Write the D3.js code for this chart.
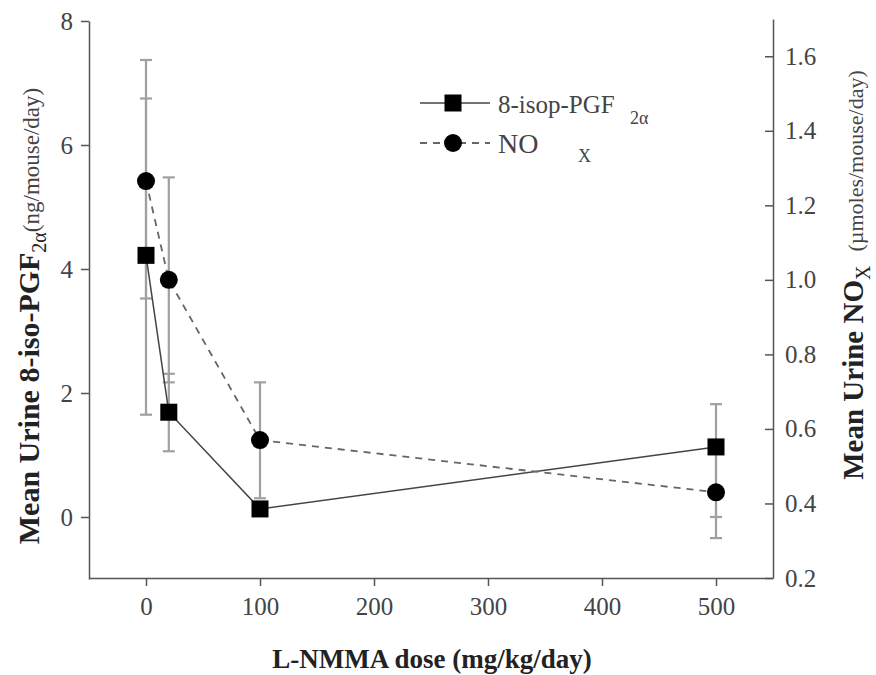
<!DOCTYPE html>
<html>
<head>
<meta charset="utf-8">
<script src="https://cdn.jsdelivr.net/npm/d3@7"></script>
<style>
  body { margin: 0; background: #fff; }
  text { font-family: "Liberation Serif", "Times New Roman", serif; }
</style>
</head>
<body>
<svg id="chart" width="876" height="675"></svg>
<script>
// dose groups (mg/kg/day)
var doses = [0, 20, 100, 500];

// 8-iso-PGF2a, ng/mouse/day (left axis)
var isoMean = [4.22, 1.69, 0.13, 1.13];
var isoLow  = [1.65, 1.06, 0.05, 0.0];
var isoHigh = [6.75, 2.31, 0.21, 1.82];

// NOx, umoles/mouse/day (right axis)
var noxMean = [1.265, 1.0, 0.57, 0.43];
var noxLow  = [0.95, 0.725, 0.414, 0.307];
var noxHigh = [1.59, 1.275, 0.725, 0.553];

var xTicks = [0, 100, 200, 300, 400, 500];
var yLeftTicks = [0, 2, 4, 6, 8];
var yRightTicks = [0.2, 0.4, 0.6, 0.8, 1.0, 1.2, 1.4, 1.6];

var svg = d3.select("#chart");
var left = 89, right = 773, bottom = 578;

var x = d3.scaleLinear().domain([-50, 550]).range([left, right]);
var yL = d3.scaleLinear().domain([-1, 8]).range([bottom + 1, 21]);
var yR = d3.scaleLinear().domain([0.2, 1.7]).range([bottom, 19]);

var axisColor = "#555", textColor = "#444";

function styleAxis(g) {
  g.selectAll("path, line").attr("stroke", axisColor).attr("stroke-width", 1.5);
  g.selectAll("text").attr("fill", textColor).attr("font-size", 25)
    .style("font-family", '"Liberation Serif", serif');
}

svg.append("g").attr("transform", "translate(0," + bottom + ")")
  .call(d3.axisBottom(x).tickValues(xTicks).tickSizeInner(8).tickSizeOuter(0).tickPadding(11))
  .call(styleAxis);

svg.append("g").attr("transform", "translate(" + left + ",0)")
  .call(d3.axisLeft(yL).tickValues(yLeftTicks).tickSizeInner(8).tickSizeOuter(0).tickPadding(8))
  .call(styleAxis);

svg.append("g").attr("transform", "translate(" + right + ",0)")
  .call(d3.axisRight(yR).tickValues(yRightTicks).tickFormat(d3.format(".1f"))
    .tickSizeInner(-8).tickSizeOuter(0).tickPadding(12))
  .call(styleAxis);

var errColor = "#a0a0a0", capW = 6;

function errorBars(lo, hi, y) {
  var g = svg.append("g").attr("stroke", errColor).attr("stroke-width", 2.2);
  doses.forEach(function (d, i) {
    var cx = x(d);
    g.append("line").attr("x1", cx).attr("x2", cx).attr("y1", y(lo[i])).attr("y2", y(hi[i]));
    [lo[i], hi[i]].forEach(function (v) {
      g.append("line").attr("x1", cx - capW).attr("x2", cx + capW).attr("y1", y(v)).attr("y2", y(v));
    });
  });
}
errorBars(isoLow, isoHigh, yL);
errorBars(noxLow, noxHigh, yR);

var isoLine = d3.line().x(function (d, i) { return x(doses[i]); }).y(function (d) { return yL(d); });
var noxLine = d3.line().x(function (d, i) { return x(doses[i]); }).y(function (d) { return yR(d); });

svg.append("path").attr("d", isoLine(isoMean)).attr("fill", "none")
  .attr("stroke", "#444").attr("stroke-width", 1.5);
svg.append("path").attr("d", noxLine(noxMean)).attr("fill", "none")
  .attr("stroke", "#666").attr("stroke-width", 1.8).attr("stroke-dasharray", "7,6");

var sq = 17;
svg.selectAll("rect.iso").data(isoMean).enter().append("rect")
  .attr("x", function (d, i) { return x(doses[i]) - sq / 2; })
  .attr("y", function (d) { return yL(d) - sq / 2; })
  .attr("width", sq).attr("height", sq).attr("fill", "#000");

svg.selectAll("circle.nox").data(noxMean).enter().append("circle")
  .attr("cx", function (d, i) { return x(doses[i]); })
  .attr("cy", function (d) { return yR(d); })
  .attr("r", 9).attr("fill", "#000");

// legend
var leg = svg.append("g");
leg.append("line").attr("x1", 420).attr("x2", 490).attr("y1", 103).attr("y2", 103)
  .attr("stroke", "#444").attr("stroke-width", 1.5);
leg.append("rect").attr("x", 453 - sq / 2).attr("y", 103 - sq / 2).attr("width", sq).attr("height", sq).attr("fill", "#000");
var t1 = leg.append("text").attr("x", 498).attr("y", 113).attr("font-size", 25).attr("fill", textColor);
t1.append("tspan").text("8-isop-PGF");
t1.append("tspan").attr("x", 630).attr("y", 124).attr("font-size", 18).text("2α");

leg.append("line").attr("x1", 420).attr("x2", 490).attr("y1", 143).attr("y2", 143)
  .attr("stroke", "#666").attr("stroke-width", 1.8).attr("stroke-dasharray", "7,6");
leg.append("circle").attr("cx", 453).attr("cy", 143).attr("r", 9).attr("fill", "#000");
var t2 = leg.append("text").attr("x", 498).attr("y", 153).attr("font-size", 28).attr("fill", textColor);
t2.append("tspan").text("NO");
t2.append("tspan").attr("x", 578).attr("y", 162).attr("font-size", 18).text("X");

// axis titles
svg.append("text").attr("x", 432).attr("y", 668).attr("text-anchor", "middle")
  .attr("font-size", 27).attr("font-weight", "bold").attr("fill", "#222")
  .text("L-NMMA dose (mg/kg/day)");

var lt = svg.append("text").attr("transform", "translate(39,316) rotate(-90)")
  .attr("text-anchor", "middle").attr("fill", "#222");
lt.append("tspan").attr("font-size", 30).attr("font-weight", "bold").text("Mean Urine 8-iso-PGF");
lt.append("tspan").attr("font-size", 20).attr("dy", 7).text("2α");
lt.append("tspan").attr("font-size", 23).attr("dy", -7).attr("fill", "#444").text("(ng/mouse/day)");

var rt = svg.append("text").attr("transform", "translate(863,275) rotate(-90)")
  .attr("text-anchor", "middle").attr("fill", "#222");
rt.append("tspan").attr("font-size", 29).attr("font-weight", "bold").text("Mean Urine NO");
rt.append("tspan").attr("font-size", 20).attr("dy", 7).text("X");
rt.append("tspan").attr("font-size", 22).attr("dy", -7).attr("dx", 14).attr("fill", "#444").text("(µmoles/mouse/day)");
</script>
</body>
</html>
